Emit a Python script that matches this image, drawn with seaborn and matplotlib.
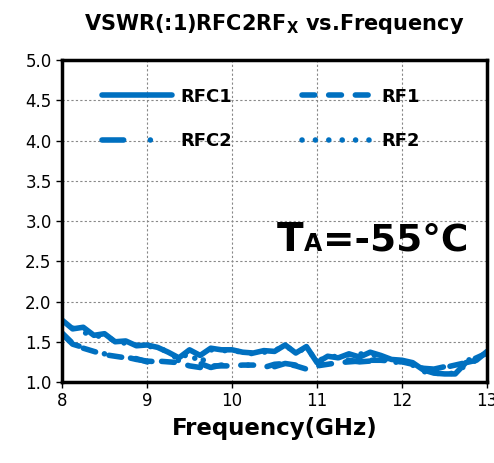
import numpy as np
import pandas as pd
import matplotlib
matplotlib.use("Agg")
import matplotlib.pyplot as plt
import seaborn as sns
from matplotlib.lines import Line2D

freq = [8.0, 8.125, 8.25, 8.375, 8.5, 8.625, 8.75, 8.875, 9.0, 9.125, 9.25, 9.375, 9.5,
        9.625, 9.75, 9.875, 10.0, 10.125, 10.25, 10.375, 10.5, 10.625, 10.75, 10.875,
        11.0, 11.125, 11.25, 11.375, 11.5, 11.625, 11.75, 11.875, 12.0, 12.125, 12.25,
        12.375, 12.5, 12.625, 12.75, 12.875, 13.0]
rfc1 = [1.77, 1.66, 1.68, 1.58, 1.60, 1.50, 1.51, 1.45, 1.46, 1.43, 1.37, 1.30, 1.40,
        1.33, 1.42, 1.40, 1.40, 1.37, 1.36, 1.39, 1.38, 1.46, 1.36, 1.44, 1.24, 1.32,
        1.30, 1.35, 1.31, 1.37, 1.33, 1.28, 1.27, 1.24, 1.15, 1.11, 1.10, 1.10, 1.24,
        1.27, 1.38]
rf1 = [1.61, 1.48, 1.42, 1.38, 1.34, 1.32, 1.30, 1.29, 1.25, 1.26, 1.25, 1.24, 1.20,
       1.18, 1.20, 1.20, 1.20, 1.21, 1.21, 1.18, 1.22, 1.23, 1.20, 1.16, 1.20, 1.22,
       1.24, 1.25, 1.26, 1.27, 1.27, 1.26, 1.25, 1.22, 1.16, 1.15, 1.18, 1.21, 1.24,
       1.30, 1.36]
rfc2 = [1.60, 1.47, 1.43, 1.37, 1.35, 1.31, 1.31, 1.28, 1.26, 1.25, 1.24, 1.27, 1.17,
        1.23, 1.18, 1.21, 1.19, 1.22, 1.20, 1.22, 1.19, 1.23, 1.21, 1.18, 1.21, 1.24,
        1.25, 1.27, 1.25, 1.26, 1.26, 1.25, 1.24, 1.21, 1.17, 1.16, 1.19, 1.22, 1.26,
        1.31, 1.37]
rf2 = [1.76, 1.67, 1.62, 1.57, 1.57, 1.51, 1.48, 1.46, 1.45, 1.42, 1.38, 1.27, 1.37,
       1.22, 1.40, 1.39, 1.39, 1.37, 1.35, 1.37, 1.39, 1.45, 1.37, 1.42, 1.26, 1.31,
       1.32, 1.34, 1.35, 1.34, 1.32, 1.27, 1.25, 1.21, 1.13, 1.11, 1.10, 1.11, 1.21,
       1.27, 1.37]
series_names = ["RFC1", "RF1", "RFC2", "RF2"]

df = pd.DataFrame({"freq": freq * 4,
                   "vswr": rfc1 + rf1 + rfc2 + rf2,
                   "port": sum([[n] * len(freq) for n in series_names], [])})

sns.set_style("white")
plt.rcParams['font.family'] = ['DejaVu Sans']
plt.rcParams['text.color'] = 'black'
plt.rcParams['axes.labelcolor'] = 'black'
plt.rcParams['xtick.color'] = 'black'
plt.rcParams['ytick.color'] = 'black'

color = "#0070C0"
lw = 4.0
styles = {"RFC1": "-",
          "RF1": (0, (2.3, 2.5)),
          "RFC2": (0, (3.9, 4.8, 0.01, 4.8)),
          "RF2": (0, (0.01, 2.4))}

fig = plt.figure(figsize=(4.94, 4.63), dpi=100)
ax = fig.add_axes([0.1255, 0.175, 0.8605, 0.695])

for name in series_names:
    sns.lineplot(data=df[df["port"] == name], x="freq", y="vswr", ax=ax, color=color,
                 lw=lw, linestyle=styles[name], solid_capstyle="round",
                 dash_capstyle="round", legend=False)

ax.set_xlim(8, 13)
ax.set_ylim(1.0, 5.0)
ax.set_xticks([8, 9, 10, 11, 12, 13])
ax.set_yticks(np.arange(1.0, 5.01, 0.5))
ax.set_yticklabels([f"{v:.1f}" for v in np.arange(1.0, 5.01, 0.5)])
ax.grid(True, color="#888888", linestyle=(0, (2, 2)), linewidth=0.8)
for s in ax.spines.values():
    s.set_color("black")
    s.set_linewidth(2.5)
ax.tick_params(axis="both", labelsize=12, length=4, width=1, direction="out",
               bottom=True, left=True, colors="black")
ax.set_xlabel("Frequency(GHz)", fontsize=16.5, fontweight="bold", labelpad=5)
ax.set_ylabel("")
ax.set_title(r"VSWR(:1)RFC2RF$_\mathbf{X}$ vs.Frequency", fontsize=15,
             fontweight="bold", pad=22)

order = ["RFC1", "RFC2", "RF1", "RF2"]
handles = [Line2D([0], [0], color=color, lw=lw, linestyle=styles[n],
                  solid_capstyle="round", dash_capstyle="round") for n in order]
leg = ax.legend(handles, order, ncol=2, frameon=False, loc="upper left",
                bbox_to_anchor=(0.055, 0.965), handlelength=3.9, columnspacing=3.9,
                labelspacing=1.45, handletextpad=0.45,
                prop={"weight": "bold", "size": 13})

ax.text(0.505, 0.44, "T", transform=ax.transAxes, fontsize=28, fontweight="bold",
        ha="left", va="center")
ax.text(0.57, 0.428, "A", transform=ax.transAxes, fontsize=17, fontweight="bold",
        ha="left", va="center")
ax.text(0.615, 0.44, "=-55°C", transform=ax.transAxes, fontsize=27, fontweight="bold",
        ha="left", va="center")

fig.savefig("out.png", dpi=100)
